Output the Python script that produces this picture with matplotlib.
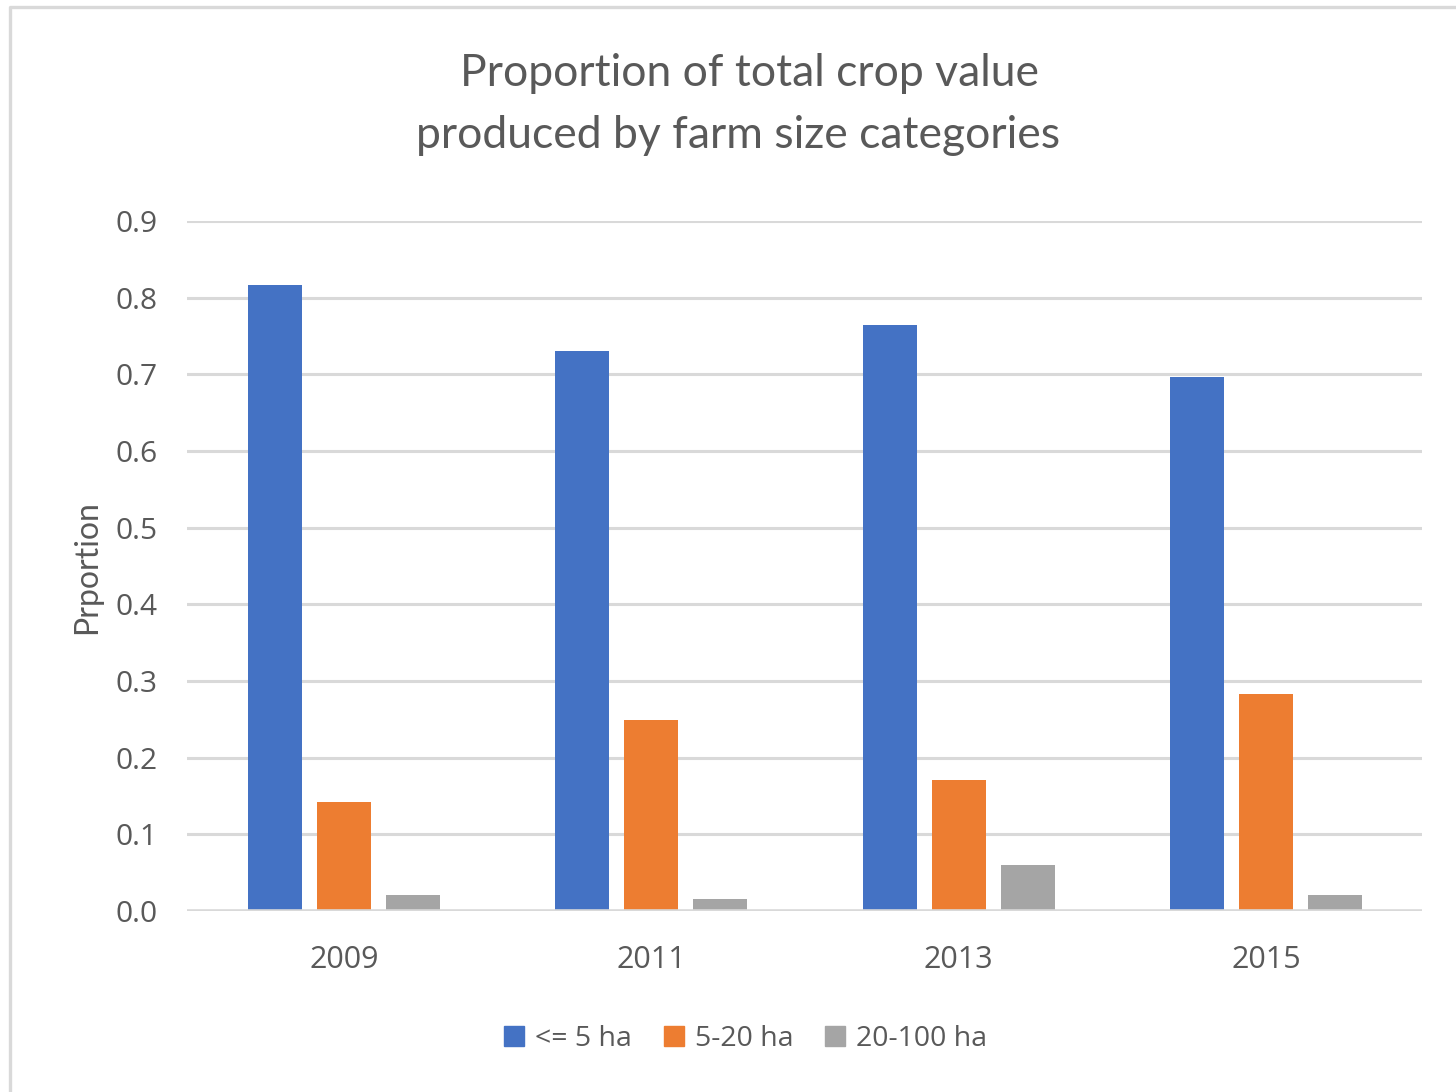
import matplotlib
matplotlib.use("Agg")
import matplotlib.pyplot as plt
from matplotlib.lines import Line2D
import numpy as np

years = ["2009", "2011", "2013", "2015"]
series_names = ["<= 5 ha", "5-20 ha", "20-100 ha"]
small = [0.817, 0.730, 0.764, 0.697]
medium = [0.142, 0.249, 0.171, 0.283]
large = [0.021, 0.016, 0.060, 0.021]
yticks = [0.0, 0.1, 0.2, 0.3, 0.4, 0.5, 0.6, 0.7, 0.8, 0.9]

colors = ["#4472C4", "#ED7D31", "#A5A5A5"]
text_color = "#595959"
grid_color = "#D9D9D9"

W, H = 1456, 1092
fig = plt.figure(figsize=(W / 100, H / 100), dpi=100)
fig.patch.set_facecolor("white")

ax = fig.add_axes([187 / W, 1 - 911 / H, (1422 - 187) / W, (911 - 221) / H])
x = np.arange(len(years))
bw = 0.176
step = 0.2245
for i, (vals, c) in enumerate(zip([small, medium, large], colors)):
    ax.bar(x + (i - 1) * step, vals, width=bw, color=c, label=series_names[i], zorder=3)

ax.set_xlim(-0.511, 3.508)
ax.set_ylim(0, 0.9)
ax.set_yticks(yticks)
ax.set_yticklabels([f"{v:.1f}" for v in yticks])
ax.set_xticks(x)
ax.set_xticklabels(years)
for s in ax.spines.values():
    s.set_visible(False)
ax.grid(axis="y", color=grid_color, linewidth=2.2, zorder=0)
ax.axhline(0, color=grid_color, linewidth=2.6, zorder=4)
ax.tick_params(axis="both", length=0, labelcolor=text_color)
ax.tick_params(axis="y", pad=21, labelsize=21.5)
ax.tick_params(axis="x", pad=24.5, labelsize=22)
for lab in ax.get_xticklabels() + ax.get_yticklabels():
    lab.set_fontfamily("Open Sans")

fig.text(87 / W, 1 - 567 / H, "Prportion", rotation=90, ha="center", va="center",
         color=text_color, fontsize=23, family="Lato")

fig.text(750 / W, 1 - 73 / H, "Proportion of total crop value", ha="center", va="center",
         color=text_color, fontsize=32, family="Lato")
fig.text(738 / W, 1 - 136 / H, "produced by farm size categories", ha="center", va="center",
         color=text_color, fontsize=32, family="Lato")

handles = [Line2D([0], [0], marker="s", linestyle="none", markersize=14,
                  markerfacecolor=c, markeredgecolor=c) for c in colors]
leg = fig.legend(handles, series_names, loc="center", bbox_to_anchor=(745 / W, 1 - 1039 / H),
                 ncol=3, frameon=False, handlelength=0.8, handletextpad=0.35,
                 columnspacing=1.05, prop={"family": "Open Sans", "size": 20.5})
for t in leg.get_texts():
    t.set_color(text_color)

# outer chart border (left and top visible)
fig.add_artist(Line2D([9.5 / W, 9.5 / W, 1.0], [0.0, 1 - 6.5 / H, 1 - 6.5 / H],
                      transform=fig.transFigure, color=grid_color, linewidth=2.4))

fig.savefig("out.png", dpi=100, facecolor="white")
